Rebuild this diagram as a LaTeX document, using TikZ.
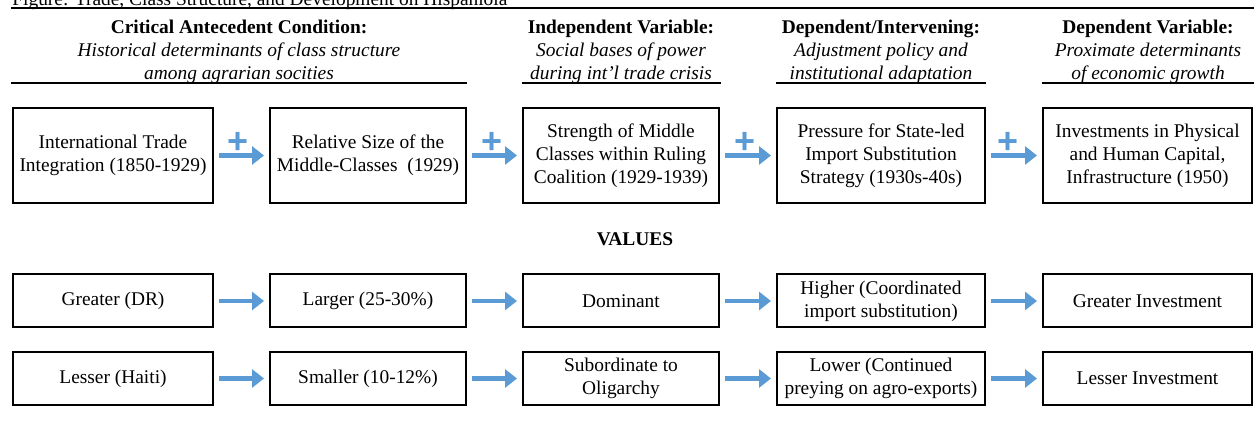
\documentclass[tikz,border=0pt]{standalone}
\usepackage{fontspec}
\setmainfont{Liberation Serif}
\newfontfamily\plusfont{Liberation Sans}
\usetikzlibrary{arrows.meta}
\definecolor{arrowblue}{HTML}{5B9BD5}
\begin{document}
\begin{tikzpicture}[x=0.5pt,y=-0.5pt,
  every node/.style={font=\fontsize{9.7}{11.5}\selectfont, inner sep=0pt},
  box/.style={draw, line width=1pt, align=center},
  topbox/.style={box, minimum height=47.5pt},
  rowbox/.style={box, minimum height=26.5pt},
  heading/.style={align=center},
  flow/.style={draw=arrowblue, line width=2.4pt, -{Triangle[length=6pt,width=9pt]}, shorten <=2.5pt, shorten >=2.5pt},
  plussign/.style={text=arrowblue, font=\plusfont\bfseries\fontsize{18}{18}\selectfont},
  rulestyle/.style={line width=0.9pt}]
\useasboundingbox (0,0) rectangle (1254,421);

% title and top rule
\node[anchor=base west] (title) at (12,6) {Figure: Trade, Class Structure, and Development on Hispaniola};
\coordinate (tl) at (11,8); \coordinate (tr) at (1254,8);
\draw[rulestyle] (tl) -- (tr);

% headings
\node[heading] (h1) at (239,51.5) {\textbf{Critical Antecedent Condition:}\\\textit{Historical determinants of class structure}\\\textit{among agrarian socities}};
\node[heading] (h2) at (621,51.5) {\textbf{Independent Variable:}\\\textit{Social bases of power}\\\textit{during int'l trade crisis}};
\node[heading] (h3) at (881,51.5) {\textbf{Dependent/Intervening:}\\\textit{Adjustment policy and}\\\textit{institutional adaptation}};
\node[heading] (h4) at (1148,51.5) {\textbf{Dependent Variable:}\\\textit{Proximate determinants}\\\textit{of economic growth}};

\coordinate (u1a) at (11,83);   \coordinate (u1b) at (467,83);
\coordinate (u2a) at (522,83);  \coordinate (u2b) at (721,83);
\coordinate (u3a) at (776,83);  \coordinate (u3b) at (986,83);
\coordinate (u4a) at (1042,83); \coordinate (u4b) at (1254,83);
\draw[rulestyle] (u1a) -- (u1b);
\draw[rulestyle] (u2a) -- (u2b);
\draw[rulestyle] (u3a) -- (u3b);
\draw[rulestyle] (u4a) -- (u4b);

% top row
\node[topbox, minimum width=100pt] (b1) at (113,155.5) {International Trade\\Integration (1850-1929)};
\node[topbox, minimum width=98pt] (b2) at (368,155.5) {Relative Size of the\\Middle-Classes~ (1929)};
\node[topbox, minimum width=98pt] (b3) at (621,155.5) {Strength of Middle\\Classes within Ruling\\Coalition (1929-1939)};
\node[topbox, minimum width=104pt] (b4) at (881,155.5) {Pressure for State-led\\Import Substitution\\Strategy (1930s-40s)};
\node[topbox, minimum width=104.5pt] (b5) at (1147.5,155.5) {Investments in Physical\\and Human Capital,\\Infrastructure (1950)};

\draw[flow] (b1) -- (b2);
\draw[flow] (b2) -- (b3);
\draw[flow] (b3) -- (b4);
\draw[flow] (b4) -- (b5);
\node[plussign] (p1) at (238,143) {+};
\node[plussign] (p2) at (492,143) {+};
\node[plussign] (p3) at (745,143) {+};
\node[plussign] (p4) at (1008,143) {+};

% values
\node[font=\fontsize{9.7}{11.5}\selectfont\bfseries] (values) at (635,239) {VALUES};

\node[rowbox, minimum width=100pt] (g1) at (113,301) {Greater (DR)};
\node[rowbox, minimum width=98pt] (g2) at (368,301) {Larger (25-30\%)};
\node[rowbox, minimum width=98pt] (g3) at (621,301) {Dominant};
\node[rowbox, minimum width=104pt] (g4) at (881,301) {Higher (Coordinated\\import substitution)};
\node[rowbox, minimum width=104.5pt] (g5) at (1147.5,301) {Greater Investment};

\node[rowbox, minimum width=100pt] (l1) at (113,378.5) {Lesser (Haiti)};
\node[rowbox, minimum width=98pt] (l2) at (368,378.5) {Smaller (10-12\%)};
\node[rowbox, minimum width=98pt] (l3) at (621,378.5) {Subordinate to\\Oligarchy};
\node[rowbox, minimum width=104pt] (l4) at (881,378.5) {Lower (Continued\\preying on agro-exports)};
\node[rowbox, minimum width=104.5pt] (l5) at (1147.5,378.5) {Lesser Investment};

\draw[flow] (g1) -- (g2);
\draw[flow] (g2) -- (g3);
\draw[flow] (g3) -- (g4);
\draw[flow] (g4) -- (g5);
\draw[flow] (l1) -- (l2);
\draw[flow] (l2) -- (l3);
\draw[flow] (l3) -- (l4);
\draw[flow] (l4) -- (l5);
\end{tikzpicture}
\end{document}
